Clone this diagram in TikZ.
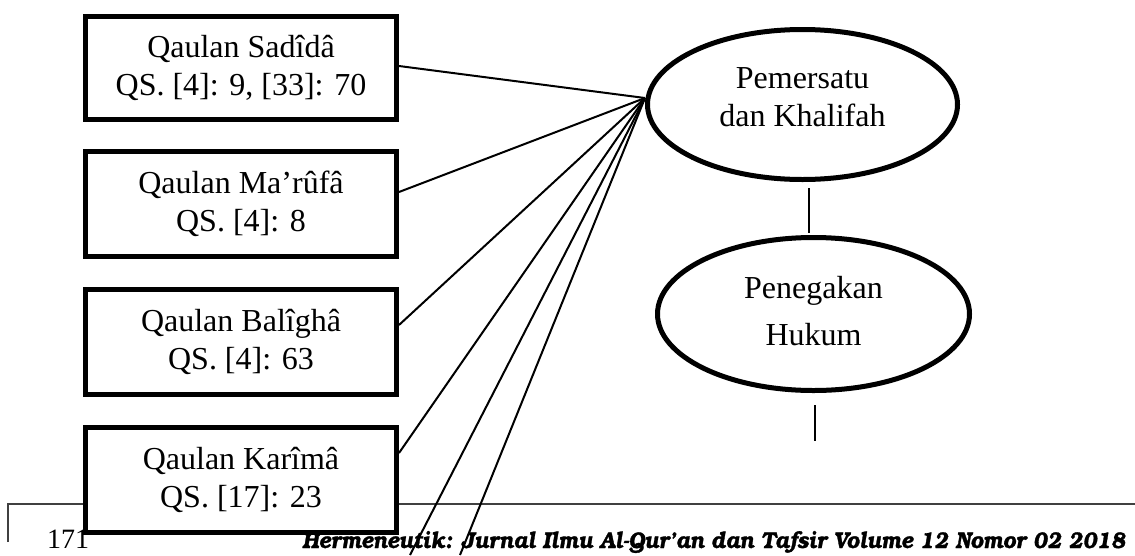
\documentclass[tikz,border=0pt]{standalone}
\usepackage{fontspec}
\setmainfont{Liberation Serif}
\newfontfamily\footfont{texgyrebonum-bolditalic.otf}[FakeBold=1.5]
\usetikzlibrary{shapes.geometric,calc}
\tikzset{
  qbox/.style={draw, rectangle, line width=5pt, fill=white, inner sep=0pt,
    minimum width=311pt, minimum height=105pt, align=center,
    font=\fontsize{32}{37.5}\selectfont},
  qell/.style={draw, ellipse, line width=5pt, fill=white, inner sep=0pt,
    align=center, font=\fontsize{32}{38}\selectfont},
  fan/.style={line width=2pt},
  link/.style={line width=1.5pt},
  footline/.style={line width=1.5pt, draw=black!75},
}
\begin{document}
\begin{tikzpicture}[x=1pt,y=-1pt]
\useasboundingbox (0,0) rectangle (1135,555);
% footer rule
\coordinate (fa) at (8,542);
\coordinate (fb) at (8,504);
\coordinate (fc) at (1135,504);
\draw[footline] (fa) -- (fb) -- (fc);
\node[anchor=base west, inner sep=0pt, font=\fontsize{28}{32}\selectfont] (pg) at (47,548) {171};
\node[anchor=base west, inner sep=0pt] (ft) at (302,548)
  {\resizebox{823pt}{17pt}{\footfont Hermeneutik: Jurnal Ilmu Al-Qur’an dan Tafsir Volume 12 Nomor 02 2018}};
% boxes
\node[qbox, minimum height=103pt] (b1) at (241,68) {Qaulan Sadîdâ\\QS. [4]: 9, [33]: 70};
\node[qbox] (b2) at (241,204) {Qaulan Ma’rûfâ\\QS. [4]: 8};
\node[qbox] (b3) at (241,342) {Qaulan Balîghâ\\QS. [4]: 63};
\node[qbox] (b4) at (241,480) {Qaulan Karîmâ\\QS. [17]: 23};
% ellipses
\node[qell, minimum width=310pt, minimum height=150pt, text depth=14pt] (e1) at (802.5,104.5) {Pemersatu\\dan Khalifah};
\node[qell, minimum width=312pt, minimum height=153pt, text depth=7pt,
      font=\fontsize{32}{47}\selectfont] (e2) at (813.5,314) {Penegakan\\Hukum};
% hub and fan
\coordinate (hub) at (645,98);
\coordinate (ea) at (410,555);
\coordinate (eb) at (460,555);
\draw[fan] (hub) -- ($(b1.east)+(0,-2)$);
\draw[fan] (hub) -- ($(b2.east)+(0,-12)$);
\draw[fan] (hub) -- ($(b3.east)+(0,-17)$);
\draw[fan] (hub) -- ($(b4.east)+(0,-27)$);
\draw[fan] (hub) -- (ea);
\draw[fan] (hub) -- (eb);
% vertical links
\coordinate (v1a) at (809,188);
\coordinate (v1b) at (809,233);
\coordinate (v2a) at (815,405);
\coordinate (v2b) at (815,441);
\draw[link] (v1a) -- (v1b);
\draw[link] (v2a) -- (v2b);
\end{tikzpicture}
\end{document}
